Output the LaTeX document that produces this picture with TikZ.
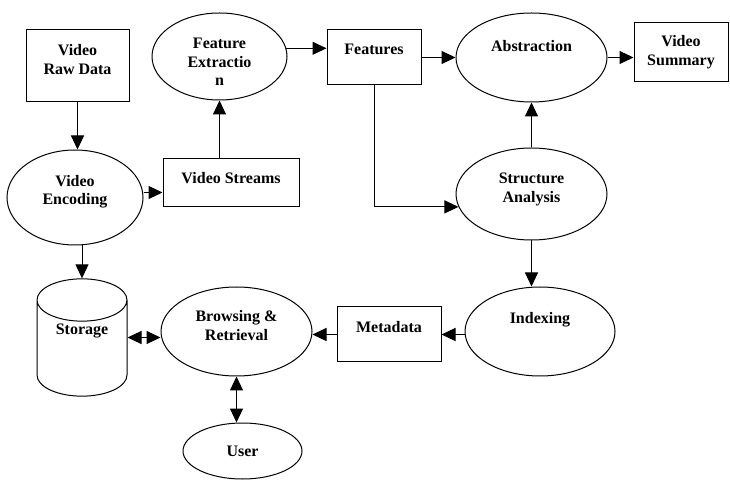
\documentclass[tikz,border=0pt]{standalone}
\usepackage{fontspec}
\setmainfont{Liberation Serif}
\usepackage{tikz}
\usetikzlibrary{arrows.meta, shapes.geometric}

\begin{document}
\begin{tikzpicture}[x=1pt, y=1pt, >={Triangle[length=14pt, width=13pt]},
    every node/.style={font=\bfseries\fontsize{16}{18.8}\selectfont, align=center, line width=1pt},
    procbox/.style={draw, rectangle, inner sep=3pt},
    oval/.style={draw, ellipse, inner sep=2pt},
    drum/.style={draw, cylinder, shape border rotate=90, aspect=0.75, inner sep=2pt},
    flow/.style={line width=1pt}]

    % =================================================================
    % 1. KHUNG HINH
    % =================================================================
    \useasboundingbox (0,0) rectangle (730,479);

    % =================================================================
    % 2. CAC KHOI XU LY (hop, elip, tru)
    % =================================================================
    % Hang tren
    \node[procbox, minimum width=103pt, minimum height=72pt, text depth=12pt] (raw) at (77.5,413.5) {Video\\Raw Data};
    \node[oval, minimum width=135pt, minimum height=87pt, inner sep=0pt, text height=59pt] (fext) at (219.5,422.5) {Feature\\Extractio\\n};
    \node[procbox, minimum width=94pt, minimum height=55pt, text depth=16pt] (feat) at (374,421.5) {Features};
    \node[oval, minimum width=151pt, minimum height=89pt, text depth=24pt] (abs) at (531.5,421.5) {Abstraction};
    \node[procbox, minimum width=94pt, minimum height=59pt] (summ) at (681,426.5) {Video\\Summary};

    % Hang giua
    \node[oval, minimum width=136pt, minimum height=95pt, text depth=15pt] (enc) at (75,281.5) {Video\\Encoding};
    \node[procbox, minimum width=136pt, minimum height=48pt, text depth=10pt] (streams) at (231,296) {Video Streams};
    \node[oval, minimum width=151pt, minimum height=92pt, text depth=13pt] (struct) at (531.5,285) {Structure\\Analysis};

    % Hang duoi
    \node[drum, minimum width=90pt, minimum height=111pt, text depth=45pt, anchor=shape center] (store) at (82,141.5) {Storage};
    \node[oval, minimum width=151pt, minimum height=89pt, text depth=12pt] (browse) at (236.5,147.5) {Browsing \&\\Retrieval};
    \node[procbox, minimum width=104pt, minimum height=55pt, text depth=16pt] (meta) at (389,144.5) {Metadata};
    \node[oval, minimum width=150pt, minimum height=89pt, text depth=28pt] (idx) at (540,147.5) {Indexing};
    \node[oval, minimum width=119pt, minimum height=56pt] (user) at (242.5,28) {User};

    % =================================================================
    % 3. CAC MUI TEN NOI
    % =================================================================
    \draw[flow, ->] (raw.south) -- (raw.south |- enc.north);
    \draw[flow, ->] ([yshift=5pt]enc.east) -- ([yshift=5pt]enc.east -| streams.west);
    \draw[flow, ->] (fext.south |- streams.north) -- (fext.south);
    \draw[flow, ->] (fext.7) -- (fext.7 -| feat.west);
    \draw[flow, ->] (feat.east) -- (abs.west);
    \draw[flow, ->] (abs.east) -- (abs.east -| summ.west);
    \draw[flow, ->] (struct.north) -- (abs.south);
    % Features xuong Structure Analysis (gap khuc)
    \draw[flow, ->] (feat.south) |- (struct.190);
    \draw[flow, ->] (struct.south) -- (struct.south |- idx.north);
    \draw[flow, ->] (meta.east -| idx.west) -- (meta.east);
    \draw[flow, ->] (meta.west) -- (meta.west -| browse.east);
    \draw[flow, <->] (store.shape center -| store.east) -- (store.shape center -| browse.west);
    \draw[flow, <->] (browse.south) -- (browse.south |- user.north);
    \draw[flow, ->] (store.north |- enc.south) -- (store.north);

\end{tikzpicture}
\end{document}
